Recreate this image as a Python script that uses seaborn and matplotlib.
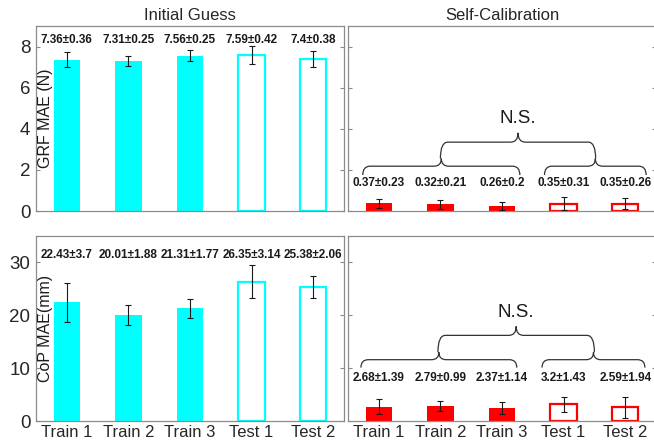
import numpy as np
import pandas as pd
import seaborn as sns
import matplotlib
matplotlib.use("Agg")
import matplotlib.pyplot as plt
from matplotlib.path import Path
from matplotlib.patches import PathPatch

sns.set_theme(style="white")
plt.rcParams["font.family"] = ["Liberation Sans", "DejaVu Sans"]

categories = ["Train 1", "Train 2", "Train 3", "Test 1", "Test 2"]
hollow = [False, False, False, True, True]

grf_init_mean = [7.36, 7.31, 7.56, 7.59, 7.4]
grf_init_sd = [0.36, 0.25, 0.25, 0.42, 0.38]
grf_self_mean = [0.37, 0.32, 0.26, 0.35, 0.35]
grf_self_sd = [0.23, 0.21, 0.2, 0.31, 0.26]
cop_init_mean = [22.43, 20.01, 21.31, 26.35, 25.38]
cop_init_sd = [3.7, 1.88, 1.77, 3.14, 2.06]
cop_self_mean = [2.68, 2.79, 2.37, 3.2, 2.59]
cop_self_sd = [1.39, 0.99, 1.14, 1.43, 1.94]

CYAN = "#00FFFF"
RED = "#FF0000"
FRAME = "#8c8c8c"
TXT = "#262626"

fig = plt.figure(figsize=(6.54, 4.45), dpi=100)
W, H = 654.0, 445.0


def px_axes(left, top, width, height):
    return fig.add_axes([left / W, 1 - (top + height) / H, width / W, height / H])


ax_tl = px_axes(36, 26, 308, 185)
ax_tr = px_axes(348, 26, 308, 185)
ax_bl = px_axes(36, 236, 308, 185)
ax_br = px_axes(348, 236, 308, 185)


def draw_panel(ax, means, sds, color, ylim, yticks, label_y, show_ylabels, show_xlabels):
    df = pd.DataFrame({"group": categories, "value": means})
    sns.barplot(data=df, x="group", y="value", ax=ax, color=color, saturation=1,
                width=0.43, errorbar=None)
    for patch, is_hollow in zip(ax.patches, hollow):
        if is_hollow:
            patch.set_facecolor("white")
            patch.set_edgecolor(color)
            patch.set_linewidth(1.6)
        else:
            patch.set_edgecolor("none")
    x = np.arange(len(categories))
    ax.errorbar(x, means, yerr=sds, fmt="none", ecolor="#1a1a1a", elinewidth=0.8,
                capsize=2.5, capthick=0.8, zorder=5)
    for xi, m, s in zip(x, means, sds):
        ax.text(xi, label_y, f"{m:g}\u00b1{s:g}", ha="center", va="center",
                fontsize=8.5, fontweight="bold", color="#1a1a1a")
    ax.set_xlim(-0.5, 4.5)
    ax.set_ylim(*ylim)
    ax.set_yticks(yticks)
    ax.set_xlabel("")
    ax.set_ylabel("")
    for sp in ax.spines.values():
        sp.set_color(FRAME)
        sp.set_linewidth(0.9)
    ax.tick_params(axis="y", direction="in", length=3, width=0.8, color=FRAME,
                   left=True, right=True, labelleft=show_ylabels, labelsize=13.5,
                   labelcolor=TXT, pad=4)
    ax.tick_params(axis="x", length=0, labelbottom=show_xlabels, labelsize=12,
                   labelcolor=TXT, pad=3)


def brace(ax, x0, x1, y_end, y_line, y_tip, r=0.12):
    xm = (x0 + x1) / 2
    verts = [
        (x0, y_end), (x0, y_line), (x0 + r, y_line),
        (xm - r, y_line), (xm, y_line), (xm, y_tip),
        (xm, y_line), (xm + r, y_line),
        (x1 - r, y_line), (x1, y_line), (x1, y_end),
    ]
    codes = [Path.MOVETO, Path.CURVE3, Path.CURVE3,
             Path.LINETO, Path.CURVE3, Path.CURVE3,
             Path.CURVE3, Path.CURVE3,
             Path.LINETO, Path.CURVE3, Path.CURVE3]
    ax.add_patch(PathPatch(Path(verts, codes), facecolor="none",
                           edgecolor="#333333", linewidth=0.9, zorder=6))


draw_panel(ax_tl, grf_init_mean, grf_init_sd, CYAN, (0, 9), [0, 2, 4, 6, 8], 8.3, True, False)
draw_panel(ax_tr, grf_self_mean, grf_self_sd, RED, (0, 9), [0, 2, 4, 6, 8], 1.36, False, False)
draw_panel(ax_bl, cop_init_mean, cop_init_sd, CYAN, (0, 35), [0, 10, 20, 30], 31.4, True, True)
draw_panel(ax_br, cop_self_mean, cop_self_sd, RED, (0, 35), [0, 10, 20, 30], 8.2, False, True)

# significance braces
brace(ax_tr, -0.26, 2.29, 1.75, 2.18, 2.55)
brace(ax_tr, 2.69, 4.34, 1.75, 2.18, 2.55)
brace(ax_tr, 1.0, 3.52, 2.55, 3.35, 3.8)
ax_tr.text(2.26, 4.5, "N.S.", ha="center", va="center", fontsize=13.5, color="#1a1a1a")

brace(ax_br, -0.29, 2.24, 10.1, 11.6, 13.0, r=0.12)
brace(ax_br, 2.65, 4.32, 10.1, 11.6, 13.0, r=0.12)
brace(ax_br, 0.96, 3.5, 13.0, 16.2, 17.9, r=0.12)
ax_br.text(2.22, 20.6, "N.S.", ha="center", va="center", fontsize=13.5, color="#1a1a1a")

ax_tl.set_title("Initial Guess", fontsize=12, color=TXT, pad=4)
ax_tr.set_title("Self-Calibration", fontsize=12, color=TXT, pad=4)

ax_tl.text(0.03, 0.5, "GRF MAE (N)", transform=ax_tl.transAxes, rotation=90,
           ha="center", va="center", fontsize=11.5, color="#1a1a1a")
ax_bl.text(0.03, 0.5, "CoP MAE(mm)", transform=ax_bl.transAxes, rotation=90,
           ha="center", va="center", fontsize=11.5, color="#1a1a1a")

fig.savefig("out.png", dpi=100)
